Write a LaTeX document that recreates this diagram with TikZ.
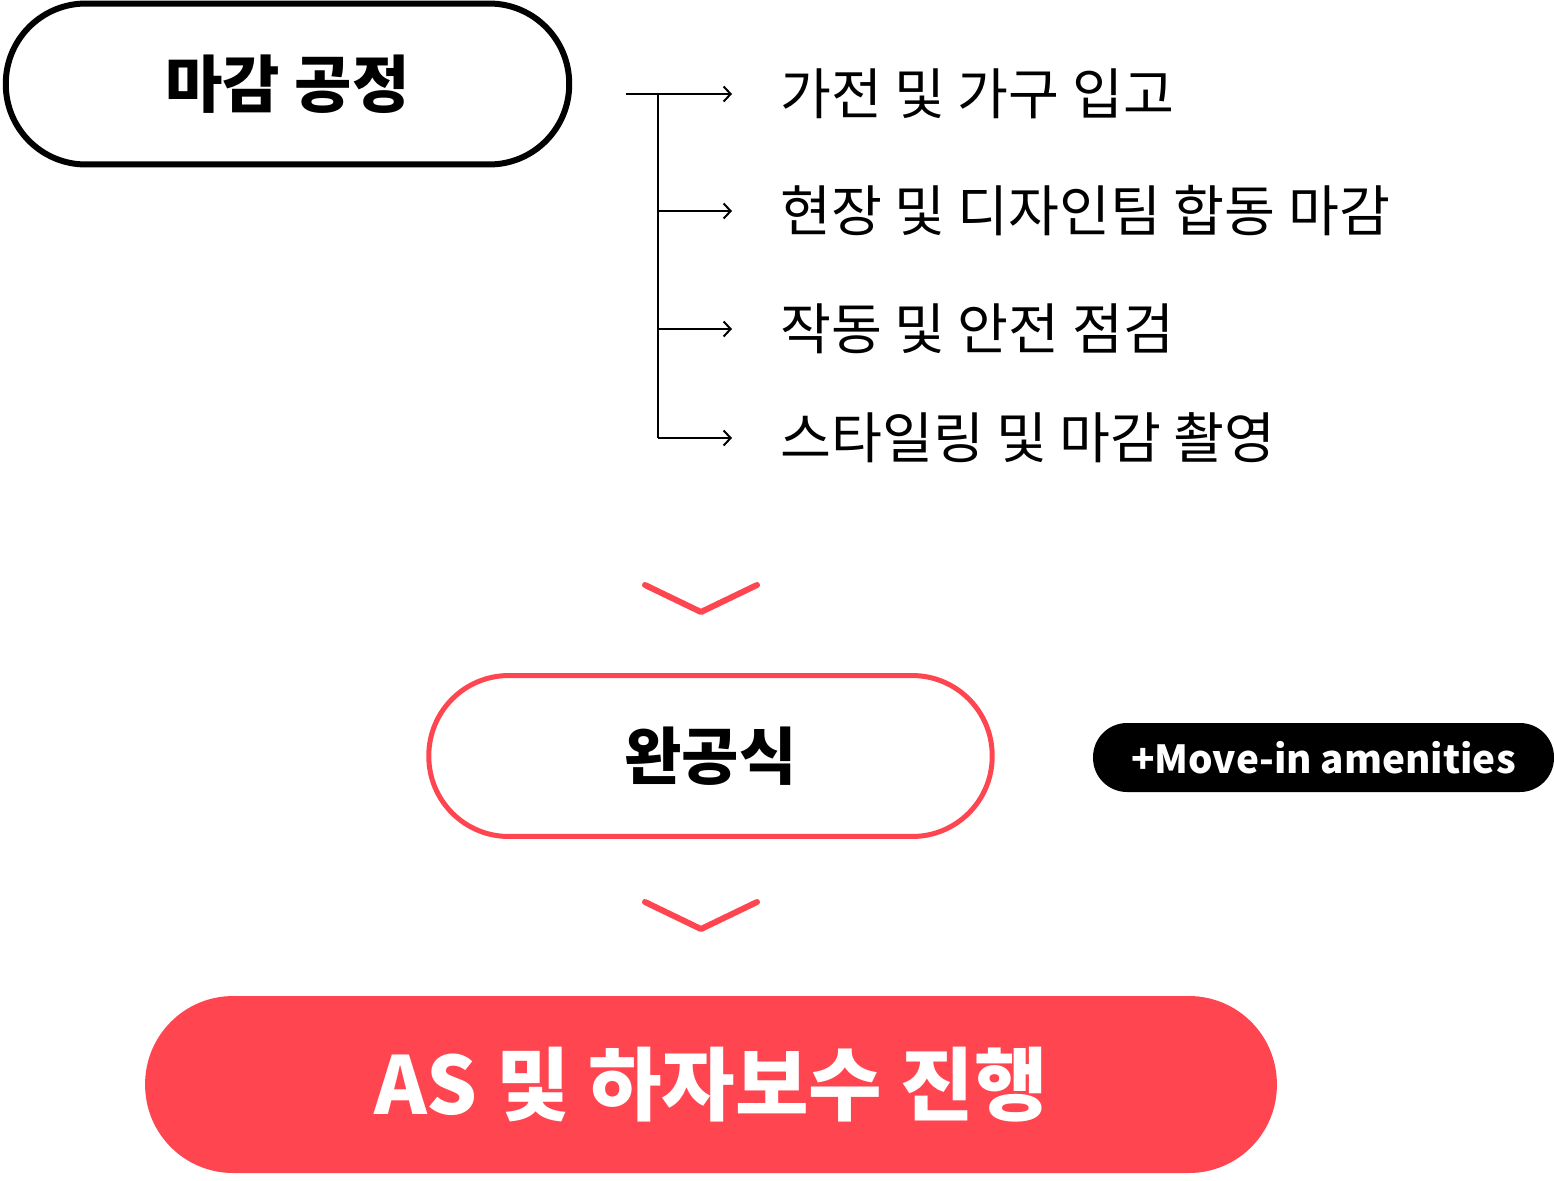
\documentclass[tikz,border=0pt]{standalone}
\usepackage{fontspec}
\setmainfont{Noto Sans CJK KR}
\usepackage{tikz}
\usetikzlibrary{positioning,arrows.meta}
\definecolor{asred}{HTML}{FF4550}
\tikzset{
	item/.style = {anchor=west, inner sep=0, font=\fontsize{31.5}{35}\selectfont},
	chevron/.style = {asred, line width=0.12cm, line cap=round, line join=round},
	bigpill/.style = {rounded corners=1.6cm, minimum width=11.27cm, minimum height=3.22cm, font=\bfseries\fontsize{35.5}{40}\selectfont}
}

\begin{document}
\begin{tikzpicture}[x = 0.02cm, y = -0.02cm]
	\useasboundingbox (0,0) rectangle (1554,1180);
	\node[bigpill, draw, line width=0.12cm] (finish) at (287.5,84) {마감 공정}; %top
	% list of finishing steps
	\coordinate (bstart) at (626,94);
	\foreach \name/\y/\txt in {appl/94/가전 및 가구 입고, team/211/현장 및 디자인팀 합동 마감, check/329/작동 및 안전 점검, styl/438/스타일링 및 마감 촬영} {
		\node[item] (\name) at (780,\y) {\txt};
		\coordinate (s\name) at (658,\y);
		\draw[-{Straight Barb[length=0.14cm,width=0.3cm]}, line width=0.04cm, shorten >=0.96cm] (s\name) -- (\name.west);
	}
	\draw[line width=0.04cm] (bstart) -- (sappl);
	\draw[line width=0.04cm] (sappl) -- (sstyl);
	\draw[chevron] (645,585) -- (701,612) -- (757,585); %1
	\node[bigpill, draw=asred, line width=0.1cm] (ceremony) at (710.5,756) {완공식};
	\node[fill=black, text=white, rounded corners=0.68cm, minimum width=9.22cm, minimum height=1.38cm, font=\bfseries\fontsize{22}{26}\selectfont] (amen) at (1323.5,757.5) {+Move-in amenities};
	\draw[chevron] (645,902) -- (701,929) -- (757,902); %2
	\node[fill=asred, text=white, rounded corners=1.76cm, minimum width=22.64cm, minimum height=3.54cm, font=\bfseries\fontsize{45.5}{50}\selectfont] (as) at (711,1084.5) {AS 및 하자보수 진행};
\end{tikzpicture}
\end{document}
